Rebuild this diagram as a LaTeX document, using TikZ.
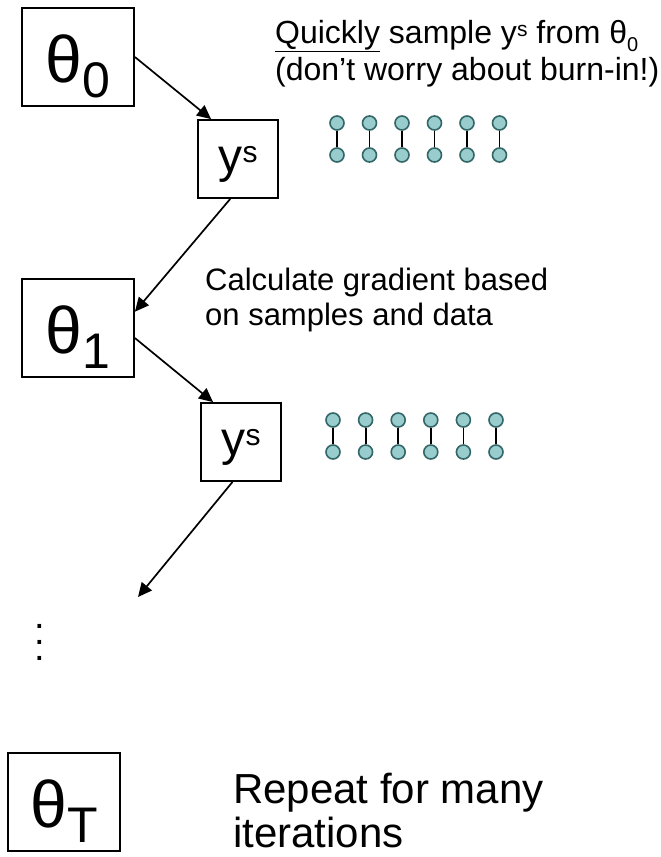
\documentclass[tikz,border=0pt]{standalone}
\usepackage{fontspec}
\setmainfont{Liberation Sans}
\usetikzlibrary{arrows.meta}

\definecolor{spinfill}{RGB}{153,204,204}
\definecolor{spinedge}{RGB}{51,102,102}

\newcommand{\bigsub}[1]{\raisebox{-15pt}{\fontsize{50}{50}\selectfont #1}}
\newcommand{\bigsup}[1]{\raisebox{10pt}{\fontsize{30}{30}\selectfont #1}}
\newcommand{\smallsub}[1]{\raisebox{-8pt}{\fontsize{20}{20}\selectfont #1}}
\newcommand{\smallsup}[1]{\raisebox{7pt}{\fontsize{21}{21}\selectfont #1}}

\tikzset{
  tbox/.style={draw, line width=1.8pt, inner sep=0pt,
    minimum width=112pt, minimum height=98pt,
    font=\fontsize{66}{66}\selectfont, text height=50pt, text depth=0pt},
  ybox/.style={draw, line width=1.8pt, inner sep=0pt,
    minimum width=80pt, minimum height=78pt,
    font=\fontsize{48}{48}\selectfont, text height=26pt, text depth=0pt},
  spin/.style={circle, draw=spinedge, fill=spinfill, line width=1.6pt,
    minimum size=14pt, inner sep=0pt},
  note/.style={anchor=base west, align=left, inner sep=0pt},
  flow/.style={-{Triangle[length=14pt,width=13pt]}, line width=1.7pt}
}

\begin{document}
\begin{tikzpicture}[x=1pt, y=-1pt]
    \useasboundingbox (0, 0) rectangle (661, 857);
    \node[tbox] at (78, 57) (th0)
      {θ\bigsub{0}};
    \node[ybox] at (238, 159) (ys1)
      {y\bigsup{s}};
    \node[tbox] at (78, 328) (th1)
      {θ\bigsub{1}};
    \node[ybox] at (241, 442) (ys2)
      {y\bigsup{s}};
    \coordinate (next) at (138, 597);
    \node[font=\fontsize{38}{16}\selectfont, align=center] at (40, 642) (dots)
      {.\\.\\.};
    \node[tbox] at (64, 802) (thT)
      {θ\bigsub{T}};
    \path[flow]
      (th0.east) edge (ys1.124)
      (ys1.259) edge (th1.16)
      (th1.350) edge (ys2.125)
      (ys2.258) edge (next);
    \foreach \i in {0,...,5} {
      \node[spin] at (337+32.5*\i, 123) (at\i) {};
      \node[spin] at (337+32.5*\i, 155) (ab\i) {};
      \draw[line width=1.8pt] (at\i) -- (ab\i);
      \node[spin] at (333+32.6*\i, 420) (bt\i) {};
      \node[spin] at (333+32.6*\i, 452) (bb\i) {};
      \draw[line width=1.8pt] (bt\i) -- (bb\i);
    }
    \node[note, font=\fontsize{32}{37}\selectfont] at (275, 80) (quick)
      {\underline{Quickly} sample y\smallsup{s} from θ\smallsub{0}\\(don’t worry about burn-in!)};
    \node[note, font=\fontsize{31}{35}\selectfont] at (205, 325) (grad)
      {Calculate gradient based\\on samples and data};
    \node[note, font=\fontsize{42}{44}\selectfont] at (233, 847) (rep)
      {Repeat for many\\iterations};
  \end{tikzpicture}
\end{document}
